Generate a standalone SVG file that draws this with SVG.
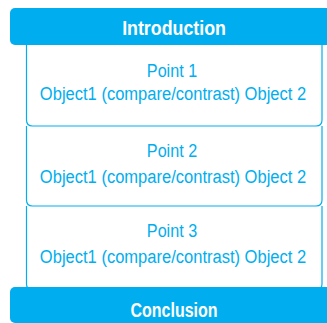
<svg xmlns="http://www.w3.org/2000/svg" width="327" height="323" viewBox="0 0 327 323">
<style>
.bar{fill:#00AEEF}
.box{fill:#fff;stroke:#00AEEF;stroke-width:1.2}
.t{font-family:"Liberation Sans",Arial,sans-serif;font-size:19px;fill:#00AEEF;text-anchor:middle}
.h{font-family:"Liberation Sans",Arial,sans-serif;font-size:20px;font-weight:bold;fill:#fff;text-anchor:middle}
</style>
<rect width="327" height="323" fill="#fff"/>
<g id="point3">
<path class="box" d="M26.5,206 V284 Q26.5,290 32.5,290 H316 Q322,290 322,284 V206"/>
<text class="t" transform="translate(172,237) scale(0.85,1)">Point 3</text>
<text class="t" transform="translate(173,263) scale(0.87,1)">Object1 (compare/contrast) Object 2</text>
</g>
<g id="point2">
<path class="box" d="M26.5,126 V200 Q26.5,206 32.5,206 H316 Q322,206 322,200 V126"/>
<text class="t" transform="translate(172,157) scale(0.85,1)">Point 2</text>
<text class="t" transform="translate(173,183) scale(0.87,1)">Object1 (compare/contrast) Object 2</text>
</g>
<g id="point1">
<path class="box" d="M26.5,44 V120 Q26.5,126 32.5,126 H316 Q322,126 322,120 V44"/>
<text class="t" transform="translate(172,77) scale(0.85,1)">Point 1</text>
<text class="t" transform="translate(173,100) scale(0.87,1)">Object1 (compare/contrast) Object 2</text>
</g>
<g id="introduction">
<rect class="bar" x="10" y="8" width="330" height="37" rx="5"/>
<text class="h" transform="translate(174,35) scale(0.89,1)">Introduction</text>
</g>
<g id="conclusion">
<rect class="bar" x="10" y="287" width="330" height="36" rx="5"/>
<text class="h" transform="translate(174,317) scale(0.8,1)">Conclusion</text>
</g>
<g id="connectors"/>
</svg>
